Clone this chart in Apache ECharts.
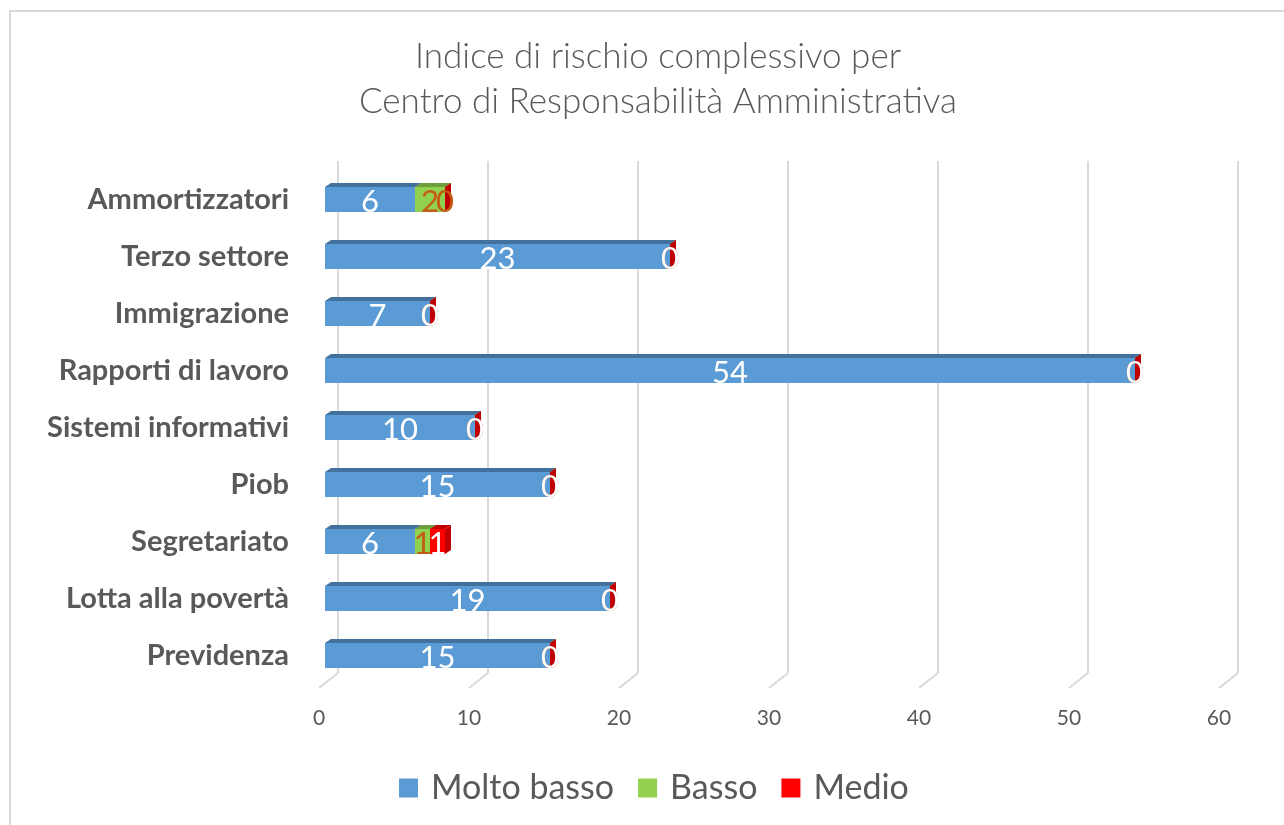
<!DOCTYPE html>
<html>
<head>
<meta charset="utf-8">
<script src="https://cdn.jsdelivr.net/npm/echarts@6/dist/echarts.min.js"></script>
<style>
  html, body { margin: 0; padding: 0; background: #fff; }
  #chart { width: 1284px; height: 825px; }
</style>
</head>
<body>
<div id="chart"></div>
<script>
  // categorie, dall'alto verso il basso
  const categories = [
    'Ammortizzatori', 'Terzo settore', 'Immigrazione', 'Rapporti di lavoro',
    'Sistemi informativi', 'Piob', 'Segretariato', 'Lotta alla povertà', 'Previdenza'
  ];
  const moltoBasso = [6, 23, 7, 54, 10, 15, 6, 19, 15];
  const basso      = [2, 0, 0, 0, 0, 0, 1, 0, 0];
  const medio      = [0, 0, 0, 0, 0, 0, 1, 0, 0];
  const seriesNames = ['Molto basso', 'Basso', 'Medio'];
  const axisTicks = [0, 10, 20, 30, 40, 50, 60];

  const FONT = 'Lato, "Noto Sans", sans-serif';
  const GREY = '#595959';

  // colori: fronte, faccia superiore/laterale, etichetta
  const styles = [
    { front: '#5B9BD5', dark: '#41719C', label: '#ffffff' },
    { front: '#92D050', dark: '#6F9E3C', label: '#C55A11' },
    { front: '#FF0000', dark: '#C00000', label: '#ffffff' }
  ];

  // dati impilati: [indice categoria, inizio, fine]
  const stacks = [moltoBasso, basso, medio];
  function stackData(k) {
    return categories.map(function (c, i) {
      let start = 0;
      for (let j = 0; j < k; j++) start += stacks[j][i];
      return [i, start, start + stacks[k][i]];
    });
  }

  function makeRender(k) {
    const st = styles[k];
    return function (params, api) {
      const i = api.value(0);
      const p0 = api.coord([api.value(1), i]);
      const p1 = api.coord([api.value(2), i]);
      const h = api.size([0, 1])[1] * 0.44;
      const dx = 6, dy = -4;
      const x0 = p0[0], x1 = p1[0];
      const yt = p0[1] - h / 2, yb = p0[1] + h / 2;
      let labelColor = st.label;
      if (k === 2 && stacks[2][i] === 0 && stacks[1][i] > 0) labelColor = styles[1].label;
      return {
        type: 'group',
        children: [
          { type: 'rect', shape: { x: x0, y: yt, width: x1 - x0, height: h }, style: { fill: st.front } },
          { type: 'polygon', shape: { points: [[x0, yt], [x1, yt], [x1 + dx, yt + dy], [x0 + dx, yt + dy]] }, style: { fill: st.dark } },
          { type: 'polygon', shape: { points: [[x1, yt], [x1 + dx, yt + dy], [x1 + dx, yb + dy], [x1, yb]] }, style: { fill: st.dark } },
          {
            type: 'text', z2: 10,
            style: {
              text: String(api.value(2) - api.value(1)),
              x: (x0 + x1) / 2, y: p0[1] + 2,
              align: 'center', verticalAlign: 'middle',
              fill: labelColor, fontSize: 31, fontFamily: FONT
            }
          }
        ]
      };
    };
  }

  const barSeries = seriesNames.map(function (name, k) {
    return {
      type: 'custom',
      name: name,
      xAxisIndex: 0,
      yAxisIndex: 0,
      color: styles[k].front,
      itemStyle: { color: styles[k].front },
      renderItem: makeRender(k),
      encode: { x: [1, 2], y: 0 },
      data: stackData(k),
      z: 10 + k
    };
  });

  // linee oblique del pavimento
  const floorSeries = {
    type: 'custom',
    xAxisIndex: 1,
    yAxisIndex: 1,
    silent: true,
    renderItem: function (params, api) {
      const p = api.coord([api.value(0), 0]);
      return {
        type: 'line',
        shape: { x1: p[0], y1: p[1], x2: p[0] - 19, y2: p[1] + 15 },
        style: { stroke: '#d9d9d9', lineWidth: 2 }
      };
    },
    data: axisTicks.map(function (t) { return [t]; }),
    z: 1
  };

  const option = {
    animation: false,
    backgroundColor: '#fff',
    title: {
      text: 'Indice di rischio complessivo per\nCentro di Responsabilità Amministrativa',
      left: 653,
      textAlign: 'center',
      top: 29,
      textStyle: { fontFamily: FONT, fontSize: 35, fontWeight: 300, color: GREY, lineHeight: 45 }
    },
    legend: {
      data: seriesNames,
      left: 394,
      top: 766,
      icon: 'rect',
      itemWidth: 19,
      itemHeight: 19,
      itemGap: 24,
      textStyle: { fontFamily: FONT, fontSize: 34, color: GREY, padding: [0, 0, 0, 8] }
    },
    graphic: [
      { type: 'rect', shape: { x: 10, y: 11, width: 1400, height: 900 }, style: { fill: null, stroke: '#d9d9d9', lineWidth: 2 }, silent: true }
    ],
    grid: [
      { left: 325, width: 900, top: 171, height: 513 },
      { left: 338, width: 900, top: 161, height: 512 },
      { left: 319, width: 900, top: 686, height: 2 }
    ],
    xAxis: [
      { gridIndex: 0, type: 'value', min: 0, max: 60, interval: 10, show: false },
      {
        gridIndex: 1, type: 'value', min: 0, max: 60, interval: 10,
        axisLine: { show: false }, axisTick: { show: false }, axisLabel: { show: false },
        splitLine: { show: true, lineStyle: { color: '#d9d9d9', width: 2 } }
      },
      {
        gridIndex: 2, type: 'value', min: 0, max: 60, interval: 10,
        axisLine: { show: false }, axisTick: { show: false }, splitLine: { show: false },
        axisLabel: { margin: 20, fontFamily: FONT, fontSize: 21, color: GREY }
      }
    ],
    yAxis: [
      {
        gridIndex: 0, type: 'category', data: categories, inverse: true,
        axisLine: { show: false }, axisTick: { show: false },
        axisLabel: { margin: 36, fontFamily: FONT, fontSize: 29, fontWeight: 'bold', color: GREY }
      },
      { gridIndex: 1, type: 'value', min: 0, max: 1, show: false },
      { gridIndex: 2, type: 'value', min: 0, max: 1, show: false }
    ],
    series: [floorSeries].concat(barSeries)
  };

  const chartObj = echarts.init(document.getElementById('chart'));
  chartObj.setOption(option);
</script>
</body>
</html>
